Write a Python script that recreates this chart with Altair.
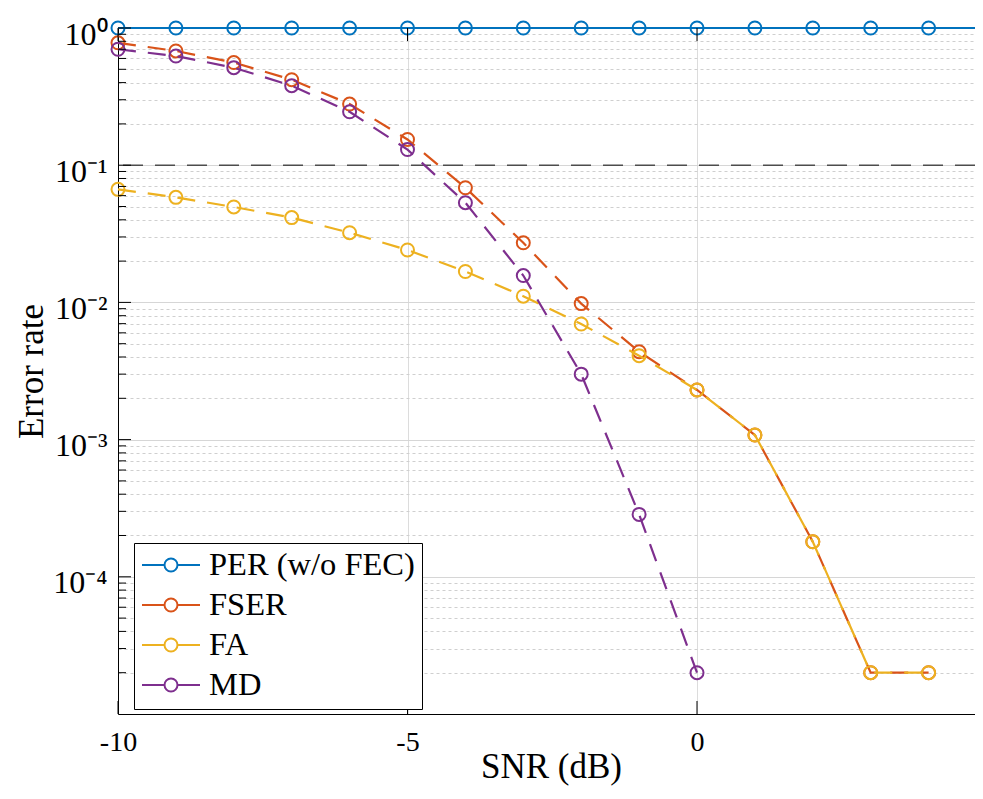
import altair as alt
import pandas as pd
import math

# ---------------- data ----------------
snr_per = list(range(-10, 6))
per = [1.0] * 16

snr_fser = list(range(-10, 5))
fser = [0.78, 0.68, 0.56, 0.42, 0.279, 0.154, 0.0685, 0.0272, 0.0098, 0.00437,
        0.0023, 0.00108, 1.8e-4, 2.0e-5, 2.0e-5]

snr_fa = list(range(-10, 5))
fa = [0.0667, 0.0583, 0.0496, 0.0415, 0.0322, 0.0241, 0.0168, 0.0111, 0.00696, 0.00409,
      0.0023, 0.00108, 1.8e-4, 2.0e-5, 2.0e-5]

snr_md = list(range(-10, 1))
md = [0.70, 0.625, 0.514, 0.38, 0.245, 0.13, 0.0533, 0.0157, 0.0030, 2.85e-4, 2.0e-5]

series_names = ["PER (w/o FEC)", "FSER", "FA", "MD"]
series_colors = ["#0072BD", "#D95319", "#EDB120", "#7E2F8E"]
series_dash = [[1, 0], [18, 12], [18, 12], [18, 12]]
threshold = 0.1

x_ticks = [-10, -5, 0, 5]
y_major = [1.0, 0.1, 0.01, 0.001, 1e-4, 1e-5]
y_tick_labels = ["10⁰", "10⁻¹", "10⁻²", "10⁻³", "10⁻⁴", ""]
y_minor = [k * 10.0 ** d for d in range(-5, 0) for k in range(2, 10)]

# ---------------- tables ----------------
rows = []
for name, xs, ys in zip(series_names, [snr_per, snr_fser, snr_fa, snr_md], [per, fser, fa, md]):
    for x, y in zip(xs, ys):
        rows.append({"snr": x, "rate": y, "series": name})
df = pd.DataFrame(rows)

W, H = 857, 686
FONT = "Liberation Serif"
x_max = -10 + W / 57.9  # visible part of the [-10, 5] axis (right edge is cut off)

is_major = "abs(log(datum.value)/LN10 - round(log(datum.value)/LN10)) < 0.001"
lab = "''"
for v, t in zip(y_major, y_tick_labels):
    e = round(math.log10(v))
    lab = f"(round(log(datum.value)/LN10) == {e} ? '{t}' : {lab})"
label_expr = f"{is_major} ? {lab} : ''"

x_enc = alt.X(
    "snr:Q",
    scale=alt.Scale(domain=[-10, x_max], nice=False, zero=False),
    axis=alt.Axis(
        values=x_ticks, labelExpr="'' + datum.value", grid=True, gridColor="#dcdcdc",
        gridWidth=1, ticks=False, tickSize=0, domainColor="black", domainWidth=1,
        labelFont=FONT, labelFontSize=28, labelColor="black", labelPadding=36,
        labelBaseline="alphabetic", labelOverlap=False, labelFlush=False,
        title="SNR (dB)", titleFont=FONT, titleFontSize=35, titleFontWeight="normal",
        titleColor="black", titleX=433, titleY=63, titleBaseline="alphabetic",
        titleAlign="center",
    ),
)
y_enc = alt.Y(
    "rate:Q",
    scale=alt.Scale(type="log", domain=[1e-5, 1], nice=False),
    axis=alt.Axis(
        values=sorted(y_major + y_minor), labelExpr=label_expr, grid=True,
        gridDash={"condition": {"test": is_major, "value": []}, "value": [3, 3]},
        gridColor={"condition": {"test": is_major, "value": "#d6d6d6"}, "value": "#cfcfcf"},
        gridWidth=1, ticks=False, tickSize=0, domainColor="black", domainWidth=1,
        labelFont=FONT, labelFontSize=32, labelColor="black", labelPadding=11,
        labelBaseline="alphabetic", labelOffset=16, labelOverlap=False, labelFlush=False,
        title="Error rate", titleFont=FONT, titleFontSize=35, titleFontWeight="normal",
        titleColor="black", titleX=-76, titleY=H / 2, titleBaseline="alphabetic",
        titleAlign="center",
    ),
)

legend_path = ("M-1,0L-0.224,0M0.224,0L1,0M0.224,0A0.224,0.224,0,1,1,-0.224,0"
               "A0.224,0.224,0,1,1,0.224,0")
color_enc = alt.Color(
    "series:N",
    scale=alt.Scale(domain=series_names, range=series_colors),
    legend=alt.Legend(
        title=None, orient="none", legendX=16, legendY=515, direction="vertical",
        columns=1, symbolType=legend_path, symbolSize=3364, symbolStrokeWidth=2,
        symbolOffset=0, labelFont=FONT, labelFontSize=32.5, labelColor="black",
        labelLimit=400, labelOffset=8, padding=7, rowPadding=7, clipHeight=30,
        strokeColor="black", fillColor="white", cornerRadius=0,
    ),
)

base = alt.Chart(df)
layers = []

# reference dashed line at 0.1
thr_df = pd.DataFrame({"rate": [threshold]})
layers.append(
    alt.Chart(thr_df).mark_rule(color="#4d4d4d", strokeDash=[20, 12], strokeWidth=1.5)
    .encode(y=alt.Y("rate:Q"))
)

for name, col, dash in zip(series_names, series_colors, series_dash):
    sub = base.transform_filter(alt.datum.series == name)
    layers.append(
        sub.mark_line(color=col, strokeDash=dash, strokeWidth=2.2)
        .encode(x=x_enc, y=y_enc)
    )
    layers.append(
        sub.mark_point(filled=False, size=169, strokeWidth=2, shape="circle", opacity=1)
        .encode(x=x_enc, y=y_enc, color=color_enc)
    )

# inward ticks (MATLAB box style)
ymaj_df = pd.DataFrame({"rate": y_major[:-1]})
ymin_df = pd.DataFrame({"rate": y_minor})
xt_df = pd.DataFrame({"snr": [-10, -5, 0]})
tick_style = dict(color="black", strokeWidth=1)
layers += [
    alt.Chart(ymaj_df).mark_rule(**tick_style).encode(y="rate:Q", x=alt.value(0), x2=alt.value(13)),
    alt.Chart(ymin_df).mark_rule(**tick_style).encode(y="rate:Q", x=alt.value(0), x2=alt.value(8)),
    alt.Chart(xt_df).mark_rule(**tick_style).encode(x="snr:Q", y=alt.value(H - 13), y2=alt.value(H)),
    alt.Chart(xt_df).mark_rule(**tick_style).encode(x="snr:Q", y=alt.value(0), y2=alt.value(13)),
]

chart = (
    alt.layer(*layers)
    .properties(
        width=W, height=H,
        autosize=alt.AutoSizeParams(type="none"),
        padding={"left": 110, "top": 20, "right": 0, "bottom": 74},
        background="white",
    )
    .configure_view(stroke=None)
)

chart.save("out.html", embed_options={"renderer": "svg", "actions": False})
